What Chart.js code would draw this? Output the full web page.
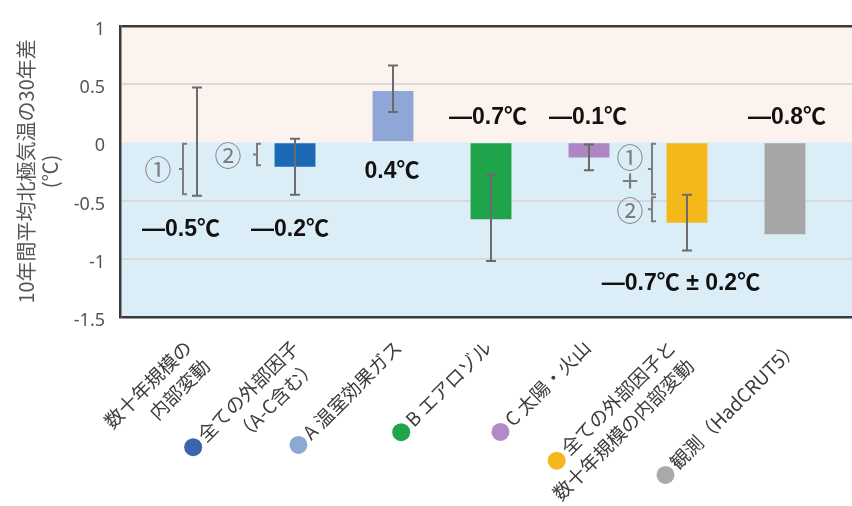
<!DOCTYPE html>
<html lang="ja">
<head>
<meta charset="utf-8">
<script src="https://cdn.jsdelivr.net/npm/chart.js@4.4.1/dist/chart.umd.min.js"></script>
<style>
  html, body { margin: 0; padding: 0; background: #fff; }
  #wrap { width: 852px; height: 506px; }
</style>
</head>
<body>
<div id="wrap"><canvas id="chart" width="852" height="506"></canvas></div>
<script>
// x categories, one entry per line of the rotated label
const categories = [
  ['数十年規模の', '内部変動'],
  ['全ての外部因子', '（A-C含む）'],
  ['A 温室効果ガス'],
  ['B エアロゾル'],
  ['C 太陽・火山'],
  ['全ての外部因子と', '数十年規模の内部変動'],
  ['観測（HadCRUT5）']
];

// 30-year difference of the 10-year mean Arctic temperature (℃)
const barValues = [null, -0.21, 0.44, -0.66, -0.13, -0.69, -0.79];
const errLow = [-0.46, -0.45, 0.26, -1.02, -0.24, -0.93, null];
const errHigh = [0.47, 0.03, 0.66, -0.28, -0.02, -0.45, null];
// contribution of decadal internal variability (bracket ①)
const internalPart = -0.46;

const yTicks = [1, 0.5, 0, -0.5, -1, -1.5];

const barColors = ['rgba(0,0,0,0)', '#1b68b5', '#8ea7d6', '#1fa34b', '#ad86c2', '#f5b81b', '#a6a6a6'];
const dotColors = [null, '#3a65ad', '#8ea8d6', '#1fa64a', '#b48ac6', '#f4b81c', '#a9a9a9'];

const fmt = v => (v < 0 ? '—' : '') + Math.abs(v).toFixed(1) + '℃';
const valueTexts = [
  fmt(internalPart),
  fmt(barValues[1]),
  fmt(barValues[2]),
  fmt(barValues[3]),
  fmt(barValues[4]),
  fmt(barValues[5]) + ' ± ' + ((errHigh[5] - errLow[5]) / 2).toFixed(1) + '℃',
  fmt(barValues[6])
];

// where the value texts sit: pixel shift from the category centre, y in axis units
const valueSpots = [
  { dx: -16, y: -0.75 }, { dx: -5, y: -0.75 }, { dx: -1, y: -0.25 },
  { dx: -3, y: 0.21 }, { dx: -1, y: 0.21 }, { dx: -6, y: -1.21 }, { dx: 2, y: 0.21 }
];
const catLabelDx = [-9, 0, 5, -3, -2, -15, 10];

// ① / ② brackets beside the bars
const brackets = [
  { cat: 0, from: 0, to: internalPart, dx: -14, mark: '①', markDx: -25, markDy: 0 },
  { cat: 1, from: 0, to: barValues[1], dx: -38, mark: '②', markDx: -29, markDy: 0 },
  { cat: 5, from: 0, to: internalPart, dx: -35, mark: '①', markDx: -22, markDy: -12 },
  { cat: 5, from: internalPart, to: barValues[5], dx: -35, mark: '②', markDx: -22, markDy: 0 }
];

const plotBackground = {
  id: 'plotBackground',
  beforeDraw(chart) {
    const { ctx, chartArea: a, scales: { y } } = chart;
    const y0 = y.getPixelForValue(0);
    ctx.save();
    ctx.fillStyle = '#fdf3ee';
    ctx.fillRect(a.left, a.top, a.right - a.left, y0 - a.top);
    ctx.fillStyle = '#dbeef8';
    ctx.fillRect(a.left, y0, a.right - a.left, a.bottom - y0);
    ctx.restore();
  }
};

const errorBars = {
  id: 'errorBars',
  afterDatasetsDraw(chart) {
    const { ctx, scales: { x, y } } = chart;
    ctx.save();
    ctx.strokeStyle = '#6b6b6b';
    ctx.lineWidth = 2;
    errLow.forEach((lo, i) => {
      if (lo === null) return;
      const px = x.getPixelForValue(i);
      const y1 = y.getPixelForValue(lo);
      const y2 = y.getPixelForValue(errHigh[i]);
      ctx.beginPath();
      ctx.moveTo(px, y1); ctx.lineTo(px, y2);
      ctx.moveTo(px - 5, y1); ctx.lineTo(px + 5, y1);
      ctx.moveTo(px - 5, y2); ctx.lineTo(px + 5, y2);
      ctx.stroke();
    });
    ctx.restore();
  }
};

const bracketMarks = {
  id: 'bracketMarks',
  afterDatasetsDraw(chart) {
    const { ctx, scales: { x, y } } = chart;
    ctx.save();
    ctx.strokeStyle = '#7d7d7d';
    ctx.fillStyle = '#7d7d7d';
    ctx.lineWidth = 2;
    ctx.textAlign = 'center';
    ctx.textBaseline = 'middle';
    brackets.forEach(b => {
      const bx = x.getPixelForValue(b.cat) + b.dx;
      const y1 = y.getPixelForValue(b.from) + 1.5;
      const y2 = y.getPixelForValue(b.to) - 1.5;
      const ym = (y1 + y2) / 2;
      ctx.beginPath();
      ctx.moveTo(bx + 4, y1); ctx.lineTo(bx, y1); ctx.lineTo(bx, y2); ctx.lineTo(bx + 4, y2);
      ctx.moveTo(bx, ym); ctx.lineTo(bx - 4, ym);
      ctx.stroke();
      ctx.font = "27px 'Noto Sans CJK JP'";
      ctx.fillText(b.mark, bx + b.markDx, ym + b.markDy + 1);
    });
    // "+" between ① and ② of the combined bar
    const c = brackets[2];
    ctx.font = "30px 'Noto Sans CJK JP'";
    ctx.fillText('+', x.getPixelForValue(c.cat) + c.dx + c.markDx, y.getPixelForValue(internalPart) - 15);
    ctx.restore();
  }
};

const valueLabels = {
  id: 'valueLabels',
  afterDatasetsDraw(chart) {
    const { ctx, scales: { x, y } } = chart;
    ctx.save();
    ctx.font = "bold 23px 'Liberation Sans', 'Noto Sans CJK JP', sans-serif";
    ctx.fillStyle = '#111';
    ctx.textAlign = 'center';
    ctx.textBaseline = 'middle';
    valueTexts.forEach((t, i) => {
      const s = valueSpots[i];
      ctx.fillText(t, x.getPixelForValue(i) + s.dx, y.getPixelForValue(s.y));
    });
    ctx.restore();
  }
};

const categoryLabels = {
  id: 'categoryLabels',
  afterDraw(chart) {
    const { ctx, chartArea, scales: { x } } = chart;
    const lineH = 26, r = 9, gap = 3;
    ctx.save();
    ctx.font = "19px 'Noto Sans CJK JP'";
    ctx.textAlign = 'right';
    ctx.textBaseline = 'middle';
    categories.forEach((lines, i) => {
      ctx.save();
      ctx.translate(x.getPixelForValue(i) + catLabelDx[i], chartArea.bottom + 27);
      ctx.rotate(-Math.PI / 4);
      ctx.fillStyle = '#3c3c3c';
      lines.forEach((t, k) => ctx.fillText(t, 0, k * lineH));
      if (dotColors[i]) {
        const w = ctx.measureText(lines[0]).width;
        ctx.beginPath();
        ctx.arc(-w - gap - r, 1, r, 0, Math.PI * 2);
        ctx.fillStyle = dotColors[i];
        ctx.fill();
      }
      ctx.restore();
    });
    ctx.restore();
  }
};

const edge = v => v === yTicks[0] || v === yTicks[yTicks.length - 1];

new Chart(document.getElementById('chart'), {
  type: 'bar',
  data: {
    datasets: [{
      data: barValues.map((v, i) => ({ x: i, y: v })),
      backgroundColor: barColors,
      borderWidth: 0,
      barPercentage: 0.61,
      categoryPercentage: 1
    }]
  },
  options: {
    responsive: false,
    animation: false,
    layout: { padding: { top: 16, bottom: 189, left: 0, right: 0 } },
    plugins: { legend: { display: false }, tooltip: { enabled: false } },
    scales: {
      x: { type: 'linear', offset: false, min: -0.786, max: 6.684, display: false },
      y: {
        min: -1.5,
        max: 1,
        afterFit: s => { s.width = 120; },
        afterBuildTicks: s => { s.ticks = yTicks.map(v => ({ value: v })); },
        ticks: {
          padding: 15,
          labelOffset: 4,
          color: '#555',
          font: { family: "'Noto Sans', sans-serif", size: 18 },
          callback: v => String(v)
        },
        grid: {
          drawTicks: false,
          color: c => edge(c.tick.value) ? '#3a3a3a' : (c.tick.value === 0 ? 'rgba(0,0,0,0)' : '#d9d9d9'),
          lineWidth: c => edge(c.tick.value) ? 2.5 : 2
        },
        border: { color: '#3a3a3a', width: 2.5 },
        title: {
          display: true,
          text: ['10年間平均北極気温の30年差', '(℃)'],
          color: '#555',
          font: { family: "'Noto Sans CJK JP'", size: 20, lineHeight: 1.2 },
          padding: { top: 14, bottom: 0 }
        }
      }
    }
  },
  plugins: [plotBackground, errorBars, bracketMarks, valueLabels, categoryLabels]
});
</script>
</body>
</html>
